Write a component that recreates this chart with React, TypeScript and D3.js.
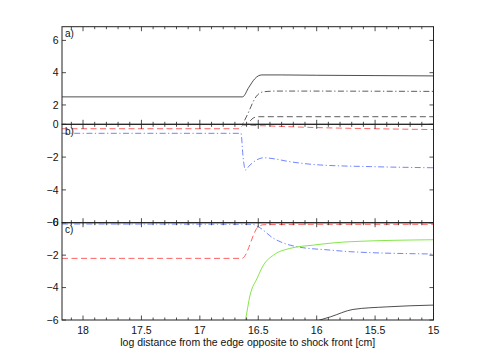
import React from 'react';
import * as d3 from 'd3';

// x is log distance, plotted reversed (18.18 on the left, 15 on the right)
const xTicks = [18, 17.5, 17, 16.5, 16, 15.5, 15];

// panel a)
const solidA: [number, number][] = [[18.18, 2.5], [16.635, 2.5], [16.58, 3.1], [16.53, 3.62], [16.5, 3.8], [16.47, 3.86], [16.3, 3.86], [16.0, 3.84], [15.5, 3.82], [15, 3.8]];
const dashDotA: [number, number][] = [[16.67, 0.4], [16.62, 1.0], [16.58, 1.6], [16.55, 2.1], [16.52, 2.5], [16.49, 2.72], [16.45, 2.82], [16.35, 2.86], [15, 2.84]];
const dashedA: [number, number][] = [[16.61, 0.5], [16.57, 1.0], [16.54, 1.2], [16.5, 1.27], [15, 1.27]];
const ticksA = [2, 4, 6];

// panel b)
const redB: [number, number][] = [[18.18, -0.27], [16.66, -0.27], [16.63, -0.05], [16.5, -0.08], [16.3, -0.13], [16, -0.2], [15.5, -0.27], [15, -0.32]];
const blueB: [number, number][] = [[18.18, -0.55], [16.648, -0.55], [16.63, -2.0], [16.61, -2.79], [16.58, -2.55], [16.52, -2.2], [16.455, -2.04], [16.35, -2.12], [16.255, -2.25], [16.1, -2.4], [15.97, -2.48], [15.54, -2.58], [15, -2.65]];
const ticksB = [0, -2, -4, -6];

// panel c)
const redC: [number, number][] = [[18.18, -2.2], [16.64, -2.2], [16.5, -0.25], [16.45, -0.12], [16, -0.1], [15, -0.1]];
const blueC: [number, number][] = [[18.18, -0.08], [16.55, -0.1], [16.5, -0.25], [16.37, -0.96], [16.17, -1.48], [15.88, -1.69], [15.71, -1.79], [15, -1.93]];
const greenC: [number, number][] = [[16.63, -6.6], [16.61, -6], [16.57, -4.46], [16.51, -3.43], [16.455, -2.61], [16.37, -2.0], [16.226, -1.58], [16.027, -1.38], [15.71, -1.17], [15, -1.05]];
const blackC: [number, number][] = [[16.02, -6.1], [15.88, -5.8], [15.69, -5.35], [15.4, -5.19], [15, -5.08]];
const ticksC = [0, -2, -4, -6];

const W = 480;
const H = 361;
const left = 62;
const right = 433.5;
const font = '"Liberation Sans", Arial, sans-serif';

const x = d3.scaleLinear().domain([18.18, 15]).range([left, right]);

type Series = { pts: [number, number][]; color: string; dash?: string };
type Panel = { id: string; label: string; top: number; bottom: number; domain: [number, number]; ticks: number[]; series: Series[] };

const DASH = '6,3.5';
const DASHDOT = '6,2.5,1.2,2.5';

const panels: Panel[] = [
  {
    id: 'a', label: 'a)', top: 26.7, bottom: 124.3, domain: [0.8, 6.85], ticks: ticksA,
    series: [
      { pts: solidA, color: '#222' },
      { pts: dashDotA, color: '#333', dash: DASHDOT },
      { pts: dashedA, color: '#333', dash: DASH },
    ],
  },
  {
    id: 'b', label: 'b)', top: 124.3, bottom: 222.7, domain: [-6, 0], ticks: ticksB,
    series: [
      { pts: redB, color: '#ff3b3b', dash: DASH },
      { pts: blueB, color: '#4d66ff', dash: DASHDOT },
    ],
  },
  {
    id: 'c', label: 'c)', top: 222.7, bottom: 320, domain: [-6, 0], ticks: ticksC,
    series: [
      { pts: redC, color: '#ff3b3b', dash: DASH },
      { pts: blueC, color: '#4d66ff', dash: DASHDOT },
      { pts: greenC, color: '#66e01a' },
      { pts: blackC, color: '#222' },
    ],
  },
];

const minorX = d3.range(150, 182).map((v) => v / 10);

function PanelView({ p, last }: { p: Panel; last: boolean }) {
  const y = d3.scaleLinear().domain(p.domain).range([p.bottom, p.top]);
  const line = d3
    .line<[number, number]>()
    .x((d) => x(d[0]))
    .y((d) => y(d[1]))
    .curve(d3.curveMonotoneX);
  const fmt = (v: number) => (v < 0 ? '\u2212' + Math.abs(v) : String(v));
  return (
    <g>
      <defs>
        <clipPath id={'clip-' + p.id}>
          <rect x={left} y={p.top} width={right - left} height={p.bottom - p.top} />
        </clipPath>
      </defs>
      <g clipPath={`url(#clip-${p.id})`}>
        {p.series.map((s, i) => (
          <path key={i} d={line(s.pts) || ''} fill="none" stroke={s.color} strokeWidth={0.8} strokeDasharray={s.dash} />
        ))}
      </g>
      <rect x={left} y={p.top} width={right - left} height={p.bottom - p.top} fill="none" stroke="#222" strokeWidth={1} />
      {minorX.map((v) => {
        const major = xTicks.includes(v);
        const len = major ? 4.5 : 2.5;
        const px = x(v);
        return (
          <g key={v} stroke="#222" strokeWidth={0.8}>
            <line x1={px} x2={px} y1={p.bottom} y2={p.bottom - len} />
            <line x1={px} x2={px} y1={p.top} y2={p.top + len} />
          </g>
        );
      })}
      {p.ticks.map((t) => (
        <g key={t}>
          <line x1={left} x2={left + 4} y1={y(t)} y2={y(t)} stroke="#222" strokeWidth={0.8} />
          <line x1={right} x2={right - 4} y1={y(t)} y2={y(t)} stroke="#222" strokeWidth={0.8} />
          <text x={58.5} y={y(t)} dy="0.35em" textAnchor="end" fontSize={10.5} fontFamily={font} fill="#111">
            {fmt(t)}
          </text>
        </g>
      ))}
      <text x={65} y={p.top + 10.5} fontSize={10} fontFamily={font} fill="#111">
        {p.label}
      </text>
      {last &&
        xTicks.map((t) => (
          <text key={t} x={x(t)} y={p.bottom + 13.5} textAnchor="middle" fontSize={10.5} fontFamily={font} fill="#111">
            {t}
          </text>
        ))}
    </g>
  );
}

export default function App() {
  return (
    <svg width={W} height={H} style={{ position: 'absolute', left: 0, top: 0, background: '#fff' }}>
      {panels.map((p, i) => (
        <PanelView key={p.id} p={p} last={i === panels.length - 1} />
      ))}
      <text x={(left + right) / 2} y={346} textAnchor="middle" fontSize={10.5} fontFamily={font} fill="#111">
        log distance from the edge opposite to shock front [cm]
      </text>
    </svg>
  );
}
